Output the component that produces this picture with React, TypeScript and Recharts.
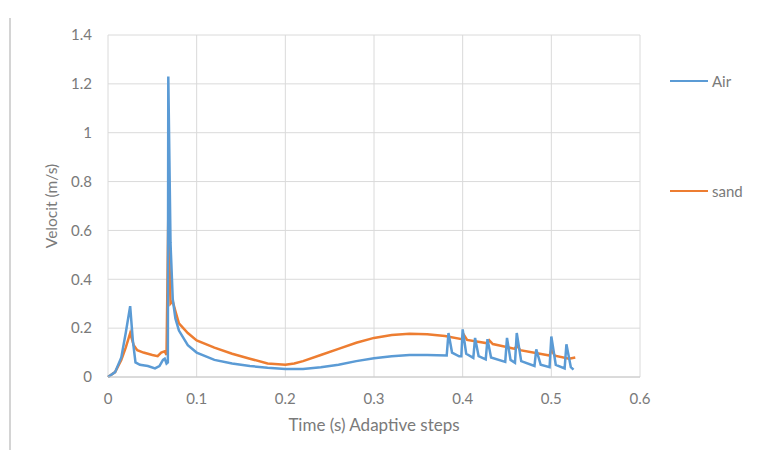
import { CartesianGrid, Line, LineChart, XAxis, YAxis } from "recharts";

const airTime = [
  0, 0.008, 0.015, 0.02, 0.025, 0.028, 0.031, 0.036, 0.045, 0.053, 0.058, 0.062, 0.064, 0.066, 0.0675, 0.068,
  0.0705, 0.073, 0.076, 0.08, 0.09, 0.1, 0.12, 0.14, 0.16, 0.18, 0.2, 0.22, 0.24, 0.26, 0.28, 0.3, 0.32, 0.34,
  0.36, 0.382, 0.384, 0.388, 0.396, 0.3985, 0.4, 0.404, 0.412, 0.414, 0.418, 0.426, 0.428, 0.432, 0.448, 0.45,
  0.454, 0.459, 0.461, 0.466, 0.481, 0.483, 0.488, 0.498, 0.5, 0.505, 0.515, 0.517, 0.522, 0.525,
];
const airVelocity = [
  0, 0.02, 0.08, 0.18, 0.29, 0.15, 0.06, 0.05, 0.045, 0.035, 0.045, 0.07, 0.075, 0.055, 0.06, 1.23,
  0.55, 0.32, 0.24, 0.19, 0.13, 0.1, 0.07, 0.055, 0.045, 0.038, 0.033, 0.033, 0.04, 0.05, 0.065, 0.077, 0.085, 0.09,
  0.09, 0.088, 0.18, 0.1, 0.085, 0.085, 0.195, 0.095, 0.078, 0.16, 0.085, 0.072, 0.155, 0.08, 0.062, 0.16,
  0.07, 0.058, 0.18, 0.065, 0.045, 0.113, 0.05, 0.04, 0.166, 0.05, 0.035, 0.134, 0.04, 0.03,
];

const sandTime = [
  0, 0.008, 0.015, 0.02, 0.025, 0.029, 0.033, 0.04, 0.05, 0.056, 0.06, 0.064, 0.066, 0.068, 0.0705, 0.073, 0.076,
  0.08, 0.09, 0.1, 0.12, 0.14, 0.16, 0.18, 0.2, 0.21, 0.22, 0.24, 0.26, 0.28, 0.3, 0.32, 0.34, 0.36, 0.38, 0.399,
  0.401, 0.405, 0.428, 0.43, 0.434, 0.459, 0.461, 0.465, 0.498, 0.5, 0.504, 0.52, 0.527,
];
const sandVelocity = [
  0, 0.02, 0.07, 0.12, 0.18, 0.13, 0.11, 0.1, 0.09, 0.085, 0.1, 0.105, 0.09, 0.66, 0.3, 0.31, 0.27,
  0.22, 0.18, 0.15, 0.12, 0.095, 0.075, 0.055, 0.05, 0.055, 0.065, 0.09, 0.115, 0.14, 0.16, 0.172, 0.177, 0.175, 0.168, 0.155,
  0.175, 0.152, 0.138, 0.15, 0.135, 0.115, 0.13, 0.11, 0.088, 0.11, 0.087, 0.075, 0.08,
];

const xTicks = [0, 0.1, 0.2, 0.3, 0.4, 0.5, 0.6];
const yTicks = [0, 0.2, 0.4, 0.6, 0.8, 1, 1.2, 1.4];

const airData = airTime.map((t, i) => ({ t, v: airVelocity[i] }));
const sandData = sandTime.map((t, i) => ({ t, v: sandVelocity[i] }));

const FONT = "Lato, 'Open Sans', sans-serif";
const TEXT = "#7a7a7a";
const AIR = "#5b9bd5";
const SAND = "#ed7d31";

const legendItems = [
  { name: "Air", color: AIR, top: 71 },
  { name: "sand", color: SAND, top: 181 },
];

export default function App() {
  return (
    <div style={{ position: "absolute", left: 0, top: 0, width: 764, height: 450, background: "#fff" }}>
      <div style={{ position: "absolute", left: 9, top: 18, width: 1.5, height: 432, background: "#d4d4d4" }} />
      <LineChart width={764} height={450} margin={{ top: 35, right: 124, bottom: 43, left: 48 }}>
        <CartesianGrid stroke="#dadada" strokeWidth={1} />
        <XAxis
          type="number"
          dataKey="t"
          domain={[0, 0.6]}
          ticks={xTicks}
          height={30}
          tickFormatter={(v: number) => String(v)}
          tick={{ fill: TEXT, fontSize: 15, fontFamily: FONT }}
          tickLine={false}
          tickMargin={10}
          axisLine={{ stroke: "#c8c8c8" }}
          allowDuplicatedCategory={false}
          label={{ value: "Time (s) Adaptive steps", position: "bottom", offset: 12, fill: TEXT, fontSize: 17, fontFamily: FONT }}
        />
        <YAxis
          type="number"
          domain={[0, 1.4]}
          ticks={yTicks}
          width={60}
          tickFormatter={(v: number) => String(v)}
          tick={{ fill: TEXT, fontSize: 15, fontFamily: FONT }}
          tickLine={false}
          tickMargin={10}
          axisLine={false}
          label={{ value: "Velocit (m/s)", angle: -90, position: "insideLeft", offset: 3, fill: TEXT, fontSize: 15.5, fontFamily: FONT, style: { textAnchor: "middle" } }}
        />
        <Line data={sandData} dataKey="v" name="sand" type="linear" stroke={SAND} strokeWidth={2.5} dot={false} isAnimationActive={false} />
        <Line data={airData} dataKey="v" name="Air" type="linear" stroke={AIR} strokeWidth={2.5} dot={false} isAnimationActive={false} />
      </LineChart>
      {legendItems.map((it) => (
        <div
          key={it.name}
          style={{ position: "absolute", left: 670, top: it.top, display: "flex", alignItems: "center", fontFamily: FONT, fontSize: 15, color: TEXT, lineHeight: "20px" }}
        >
          <span style={{ display: "inline-block", width: 38, height: 2.5, background: it.color, marginRight: 4 }} />
          <span>{it.name}</span>
        </div>
      ))}
    </div>
  );
}
